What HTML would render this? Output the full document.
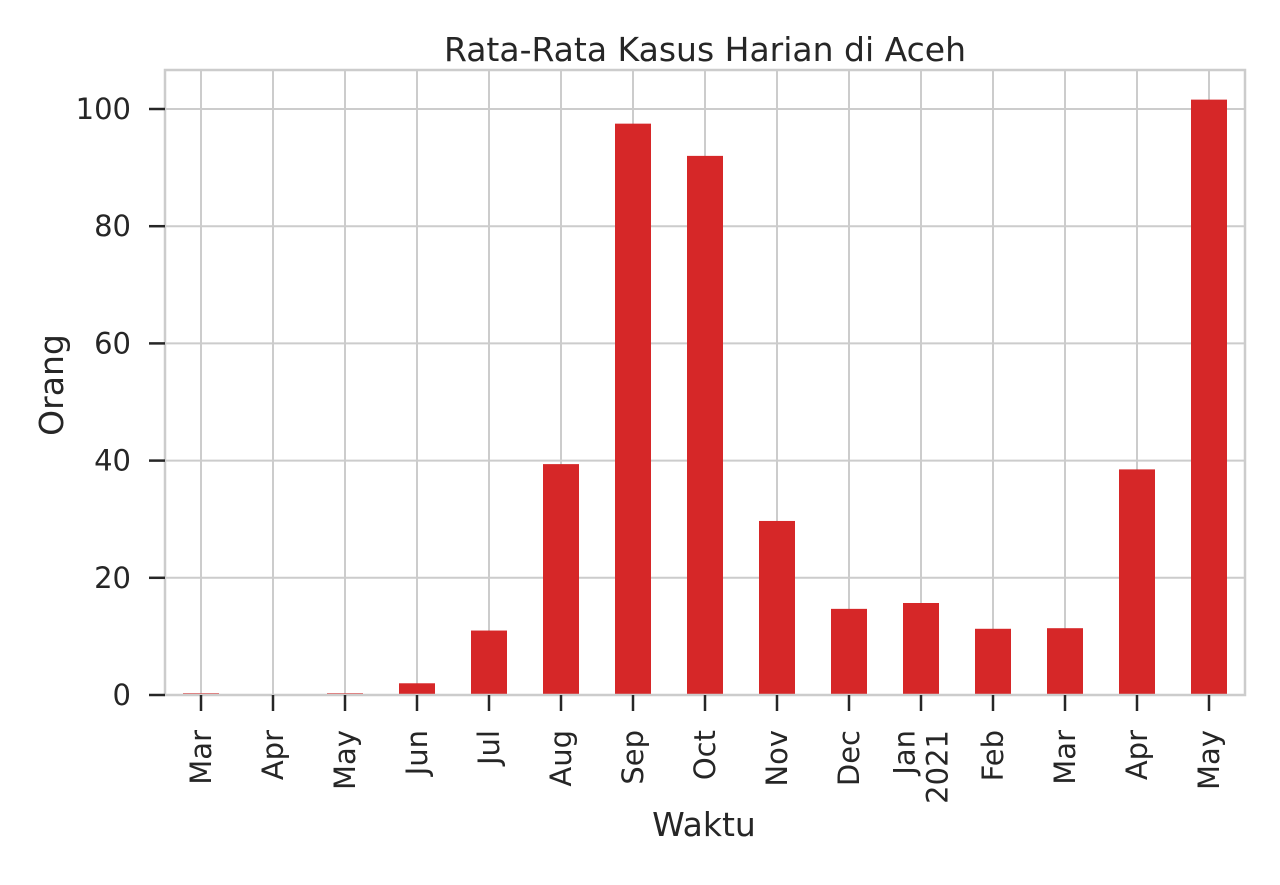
<!DOCTYPE html>
<html><head><meta charset="utf-8"><style>
html,body{margin:0;padding:0;background:#fff;}
svg text{font-family:"DejaVu Sans","Liberation Sans",sans-serif;fill:#262626;}
</style></head><body>
<svg id="chart" width="1280" height="880" xmlns="http://www.w3.org/2000/svg">
<rect width="1280" height="880" fill="#fff"/>
<g id="grid"></g>
<g id="bars"></g>
<rect x="165" y="70" width="1080" height="625" fill="none" stroke="#cccccc" stroke-width="2.5"/>
<g id="ticks"></g>
<text x="705" y="61" font-size="33" text-anchor="middle">Rata-Rata Kasus Harian di Aceh</text>
<text x="704" y="836" font-size="33" text-anchor="middle">Waktu</text>
<text transform="translate(63,385) rotate(-90)" font-size="33" text-anchor="middle">Orang</text>
</svg>
<script>
const categories=["Mar","Apr","May","Jun","Jul","Aug","Sep","Oct","Nov","Dec","Jan\n2021","Feb","Mar","Apr","May"];
const values=[0.3,0,0.3,2,11,39.4,97.5,92,29.7,14.7,15.7,11.3,11.4,38.5,101.6];
const yTicks=[0,20,40,60,80,100];
const NS="http://www.w3.org/2000/svg";
const x0=201,step=72,bw=36;
function xPos(i){return x0+i*step;}
function yPos(v){return 695-v*5.86;}
const grid=document.getElementById('grid'),bars=document.getElementById('bars'),ticks=document.getElementById('ticks');
function mk(tag,attrs,parent){const e=document.createElementNS(NS,tag);for(const k in attrs)e.setAttribute(k,attrs[k]);parent.appendChild(e);return e;}
yTicks.forEach(t=>{
  const y=yPos(t);
  const g=mk('line',{x1:165,x2:1245,y1:y,y2:y,stroke:'#cccccc','stroke-width':2},grid);
  
  
  const tk=mk('line',{x1:149,x2:165,y1:y,y2:y,stroke:'#262626','stroke-width':2.5},ticks);
  
  
  const tx=mk('text',{x:131,y:y+10,'font-size':29,'text-anchor':'end'},ticks);
  tx.textContent=t;
  
  
});
categories.forEach((c,i)=>{
  const x=xPos(i);
  const g=mk('line',{x1:x,x2:x,y1:70,y2:695,stroke:'#cccccc','stroke-width':2},grid);
  
  
  const h=695-yPos(values[i]);
  const b=mk('rect',{x:x-bw/2,y:yPos(values[i]),width:bw,height:h,fill:'#d62728'},bars);
  
  
  const tk=mk('line',{x1:x,x2:x,y1:695,y2:711,stroke:'#262626','stroke-width':2.5},ticks);
  
  
  const lines=c.split('\n');
  const t=mk('text',{transform:`translate(${x},730) rotate(-90)`,'font-size':29,'text-anchor':'end'},ticks);
  
  
  const n=lines.length;
  lines.forEach((l,j)=>{
    const s=mk('tspan',{x:0,y:10+(j-(n-1)/2)*33},t);
    s.textContent=l;
  });
});
</script>
</body></html>
